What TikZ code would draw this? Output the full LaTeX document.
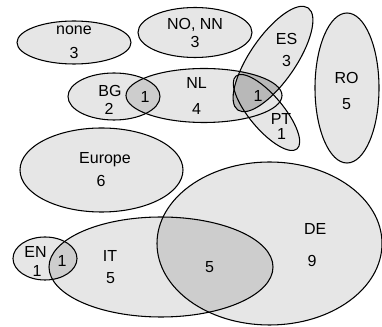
\documentclass[tikz,border=0pt]{standalone}
\usepackage{fontspec}
\setmainfont{Liberation Sans}
\definecolor{setfill}{HTML}{E6E6E6}
\definecolor{twofill}{HTML}{CDCDCD}
\definecolor{threefill}{HTML}{B8B8B8}
\def\pNone{(74,42.5) ellipse [x radius=57, y radius=21.5]}
\def\pNoNn{(195,32.5) ellipse [x radius=57, y radius=25]}
\def\pBG{(114,96.5) ellipse [x radius=46, y radius=23.5]}
\def\pNL{(204,95.5) ellipse [x radius=78, y radius=27]}
\def\pES{(273,59) ellipse [x radius=62, y radius=23, rotate=55.5]}
\def\pPT{(266.5,112.5) ellipse [x radius=47.5, y radius=17, rotate=-50]}
\def\pRO{(347,88) ellipse [x radius=32, y radius=75]}
\def\pEurope{(101.5,170) ellipse [x radius=81.5, y radius=42]}
\def\pEN{(45,258.5) ellipse [x radius=32, y radius=21.5]}
\def\pIT{(161,267) ellipse [x radius=112, y radius=50]}
\def\pDE{(269.5,243.5) ellipse [x radius=112.5, y radius=81.5]}
\begin{document}
\begin{tikzpicture}[x=0.75pt,y=-0.75pt,
  setshape/.style={fill=setfill},
  outline/.style={draw=black,line width=0.8pt},
  lab/.style={font=\fontsize{12}{14}\selectfont,inner sep=0pt,anchor=base}]
\useasboundingbox (0,0) rectangle (382,327);
% fills
\foreach \p in {\pNone,\pNoNn,\pBG,\pNL,\pES,\pPT,\pRO,\pEurope,\pEN,\pIT,\pDE}{
  \fill[setshape] \p;
}
% overlaps
\begin{scope}\clip \pBG; \fill[twofill] \pNL;\end{scope}
\begin{scope}\clip \pEN; \fill[twofill] \pIT;\end{scope}
\begin{scope}\clip \pIT; \fill[twofill] \pDE;\end{scope}
\begin{scope}\clip \pNL; \fill[threefill] \pES;\end{scope}
% outlines
\foreach \p in {\pNone,\pNoNn,\pBG,\pNL,\pES,\pPT,\pRO,\pEurope,\pEN,\pIT,\pDE}{
  \draw[outline] \p;
}
% labels
\node[lab] (none) at (74,35) {none};
\node[lab] (noneN) at (74,59) {3};
\node[lab] (nonn) at (195,30) {NO, NN};
\node[lab] (nonnN) at (195,48) {3};
\node[lab] (bg) at (110,97) {BG};
\node[lab] (bgN) at (109,115) {2};
\node[lab] (bgnl) at (145,103) {1};
\node[lab] (nl) at (196.5,89) {NL};
\node[lab] (nlN) at (196.5,115) {4};
\node[lab] (es) at (286.5,45) {ES};
\node[lab] (esN) at (286.5,66.5) {3};
\node[lab] (nles) at (258,102) {1};
\node[lab] (pt) at (281,125) {PT};
\node[lab] (ptN) at (281.5,139.5) {1};
\node[lab] (ro) at (346.5,83.3) {RO};
\node[lab] (roN) at (346.5,110) {5};
\node[lab] (europe) at (105,163.3) {Europe};
\node[lab] (europeN) at (101,186.7) {6};
\node[lab] (en) at (35.5,257.3) {EN};
\node[lab] (enN) at (37,276.7) {1};
\node[lab] (enit) at (62,266.7) {1};
\node[lab] (it) at (110,261.7) {IT};
\node[lab] (itN) at (110.5,283.3) {5};
\node[lab] (itde) at (209.5,272.7) {5};
\node[lab] (de) at (315.3,235) {DE};
\node[lab] (deN) at (312,266.7) {9};
\end{tikzpicture}
\end{document}
